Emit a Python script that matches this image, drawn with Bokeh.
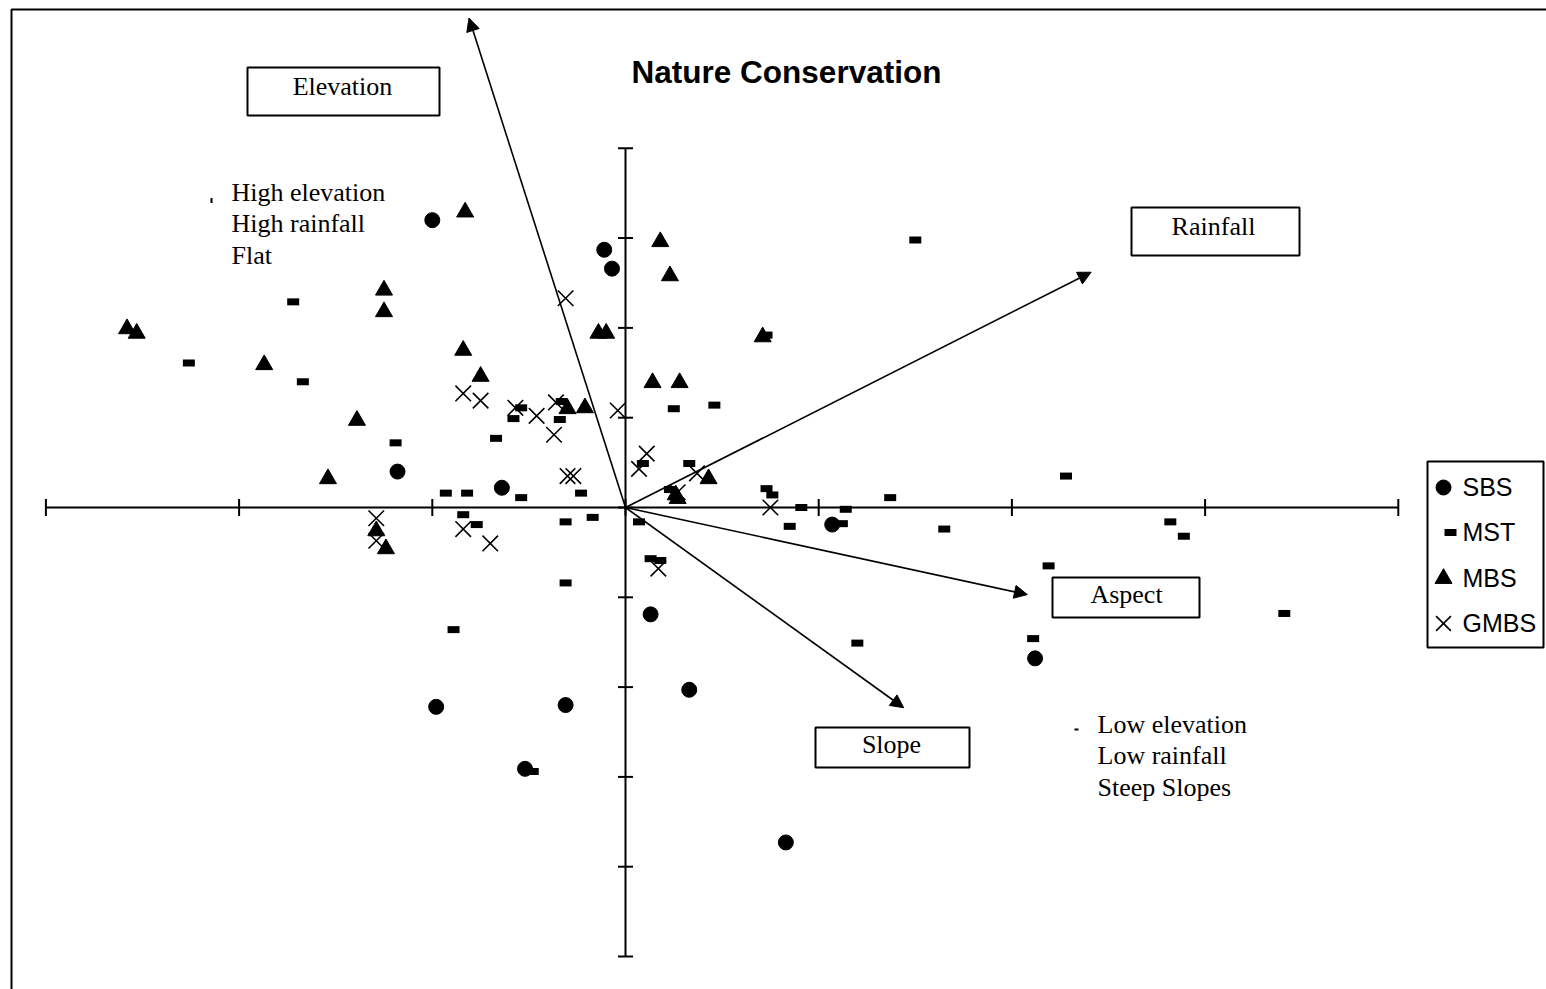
from bokeh.plotting import figure
from bokeh.models import Arrow, NormalHead, Range1d
from bokeh.core.properties import value
from bokeh.embed import file_html
from bokeh.resources import INLINE
import math

# ---------------- data (ordination scores) ----------------
sbs_x = [-1.00, -0.11, -0.07, -1.18, -0.64, 1.07, 0.13, 2.12, 0.33, -0.98, -0.31, -0.52, 0.83]
sbs_y = [3.20, 2.87, 2.66, 0.40, 0.22, -0.19, -1.19, -1.68, -2.03, -2.22, -2.20, -2.91, -3.73]

mst_x = [1.50, -1.72, -2.26, -1.67, 0.73, -1.19, -0.67, -0.58, -0.54, -0.34, -0.33, 0.25, 0.46,
         -0.93, -0.82, -0.54, -0.23, -0.84, -0.77, -0.31, -0.17, 0.07, 0.09, 0.33, 0.23, 0.73,
         0.76, 0.91, 0.85, 1.12, 1.14, 1.37, 1.65, 2.28, 2.82, 2.89, 2.19, 3.41, 2.11, 1.20,
         0.13, 0.18, -0.31, -0.89, -0.48]
mst_y = [2.98, 2.29, 1.61, 1.40, 1.92, 0.72, 0.77, 0.99, 1.11, 0.98, 1.18, 1.10, 1.14,
         0.16, 0.16, 0.11, 0.16, -0.08, -0.19, -0.16, -0.11, -0.16, 0.49, 0.49, 0.20, 0.21,
         0.14, 0.00, -0.21, -0.18, -0.02, 0.11, -0.24, 0.35, -0.16, -0.32, -0.65, -1.18, -1.46, -1.51,
         -0.57, -0.59, -0.84, -1.36, -2.94]

mbs_x = [-0.83, 0.18, 0.23, -1.25, -1.25, -2.58, -2.53, -1.87, -0.84, -0.75, -0.14, -0.10, 0.71,
         0.14, 0.28, -1.39, -1.54, -0.30, -0.21, 0.43, 0.27, 0.26, -1.29, -1.24]
mbs_y = [3.29, 2.96, 2.58, 2.42, 2.18, 1.99, 1.94, 1.59, 1.75, 1.46, 1.94, 1.94, 1.90,
         1.39, 1.39, 0.97, 0.32, 1.10, 1.11, 0.32, 0.10, 0.14, -0.26, -0.46]

gmbs_x = [-0.31, -0.84, -0.75, -0.57, -0.46, -0.36, -0.37, -0.04, -0.30, -0.27, 0.11, 0.07,
          0.37, 0.27, 0.75, 0.17, -1.29, -1.29, -0.84, -0.70]
gmbs_y = [2.33, 1.27, 1.19, 1.11, 1.02, 1.17, 0.81, 1.08, 0.35, 0.35, 0.60, 0.43,
          0.38, 0.17, 0.00, -0.68, -0.12, -0.37, -0.24, -0.40]

# environmental vectors
vec_names = ["Elevation", "Rainfall", "Aspect", "Slope"]
vec_x = [-0.81, 2.41, 2.08, 1.44]
vec_y = [5.45, 2.62, -0.97, -2.23]

x_ticks = [-3, -2, -1, 0, 1, 2, 3, 4]
y_ticks = [-5, -4, -3, -2, -1, 0, 1, 2, 3, 4]

series_names = ["SBS", "MST", "MBS", "GMBS"]
title_text = "Nature Conservation"
note_high = ["High elevation", "High rainfall", "Flat"]
note_low = ["Low elevation", "Low rainfall", "Steep Slopes"]

# ---------------- layout helpers (pixel -> data) ----------------
W, H = 1546, 989
X0PX, Y0PX, XU, YU = 625.0, 507.0, 193.2, 89.8


def dx(px):
    return (px - X0PX) / XU


def dy(py):
    return (Y0PX - py) / YU


SERIF_SHIFT = 8.8   # baseline correction for 26px serif text
SANS_SHIFT = 9.0    # 25px sans
TITLE_SHIFT = 11.5  # 31.5px bold sans

p = figure(width=W, height=H,
           x_range=Range1d(dx(0), dx(W)), y_range=Range1d(dy(H), dy(0)),
           output_backend="svg", toolbar_location=None, min_border=0,
           x_axis_location=None, y_axis_location=None)
p.xgrid.visible = False
p.ygrid.visible = False
p.outline_line_color = None
p.background_fill_color = "white"
p.border_fill_color = "white"

# frame (left and top edges visible)
p.line([dx(11), dx(11), dx(W + 10)], [dy(H + 10), dy(9), dy(9)], line_width=2, color="black")

# axes through the origin
p.segment(x0=[x_ticks[0]], y0=[0], x1=[x_ticks[-1]], y1=[0], line_width=2, color="black")
p.segment(x0=[0], y0=[y_ticks[0]], x1=[0], y1=[y_ticks[-1]], line_width=2, color="black")
p.scatter(x=x_ticks, y=[0] * len(x_ticks), marker="dash", angle=math.pi / 2, size=17,
          line_width=2, line_color="black")
p.scatter(x=[0] * len(y_ticks), y=y_ticks, marker="dash", size=15,
          line_width=2, line_color="black")

# vectors
for vx, vy in zip(vec_x, vec_y):
    p.add_layout(Arrow(end=NormalHead(size=13, fill_color="black", line_color="black"),
                       x_start=0, y_start=0, x_end=vx, y_end=vy,
                       line_width=1.6, line_color="black"))

# points
MST_STYLE = dict(marker="dash", size=12, line_width=7, line_color="black")
GMBS_STYLE = dict(marker="x", size=22, line_width=1.6, line_color="black")
MBS_STYLE = dict(marker="triangle", size=17, fill_color="black", line_color="black")
SBS_STYLE = dict(marker="circle", size=15, fill_color="black", line_color="black")

p.scatter(mst_x, mst_y, **MST_STYLE)
p.scatter(gmbs_x, gmbs_y, **GMBS_STYLE)
p.scatter(mbs_x, mbs_y, **MBS_STYLE)
p.scatter(sbs_x, sbs_y, **SBS_STYLE)

# vector label boxes
box_cx = [dx(343), dx(1215), dx(1125.5), dx(892)]
box_cy = [dy(91), dy(231), dy(597), dy(747)]
box_w = [192, 168, 147, 154]
box_h = [48, 48, 40, 40]
p.rect(x=box_cx, y=box_cy, width=box_w, height=box_h, width_units="screen",
       height_units="screen", fill_color="white", line_color="black", line_width=2)
p.text(x=[dx(342), dx(1213), dx(1126), dx(891)],
       y=[dy(95 - SERIF_SHIFT), dy(235 - SERIF_SHIFT), dy(603 - SERIF_SHIFT), dy(753 - SERIF_SHIFT)],
       text=vec_names, text_font=value("Liberation Serif"), text_font_size="26px",
       text_align="center", text_baseline="alphabetic", text_color="black")

# title
p.text(x=[dx(786)], y=[dy(83 - TITLE_SHIFT)], text=[title_text], text_font=value("Liberation Sans"),
       text_font_size="31.5px", text_font_style="bold", text_align="center",
       text_baseline="alphabetic", text_color="black")

# notes
p.text(x=[dx(231)] * 3, y=[dy(201 - SERIF_SHIFT), dy(232 - SERIF_SHIFT), dy(264 - SERIF_SHIFT)],
       text=note_high, text_font=value("Liberation Serif"), text_font_size="26px",
       text_align="left", text_baseline="alphabetic", text_color="black")
p.text(x=[dx(1097)] * 3, y=[dy(733 - SERIF_SHIFT), dy(764 - SERIF_SHIFT), dy(796 - SERIF_SHIFT)],
       text=note_low, text_font=value("Liberation Serif"), text_font_size="26px",
       text_align="left", text_baseline="alphabetic", text_color="black")
p.rect(x=[dx(211), dx(1076)], y=[dy(200), dy(729)], width=[2, 4], height=[5, 2],
       width_units="screen", height_units="screen", fill_color="black", line_color=None)

# legend (drawn box with series symbols)
p.rect(x=[dx(1485)], y=[dy(554)], width=[116], height=[186], width_units="screen",
       height_units="screen", fill_color="white", line_color="black", line_width=2)
row_py = [487, 532, 578, 623]
p.scatter([dx(1443)], [dy(row_py[0])], **SBS_STYLE)
p.scatter([dx(1450)], [dy(row_py[1])], **MST_STYLE)
p.scatter([dx(1443)], [dy(row_py[2])], **MBS_STYLE)
p.scatter([dx(1443)], [dy(row_py[3])], **dict(GMBS_STYLE, size=21))
p.text(x=[dx(1462)] * 4, y=[dy(py + 8 - SANS_SHIFT) for py in row_py], text=series_names,
       text_font=value("Liberation Sans"), text_font_size="25px", text_align="left",
       text_baseline="alphabetic", text_color="black")

open("out.html", "w").write(file_html(p, INLINE))
